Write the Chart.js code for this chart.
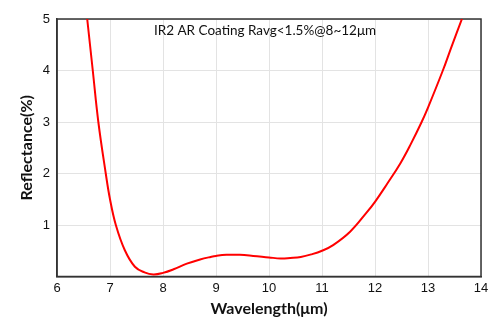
<!DOCTYPE html>
<html>
<head>
<meta charset="utf-8">
<script src="https://cdn.jsdelivr.net/npm/chart.js@4"></script>
<style>
  html, body { margin: 0; padding: 0; background: #fff; }
  #wrap { width: 500px; height: 334px; }
</style>
</head>
<body>
<div id="wrap"><canvas id="c" width="500" height="334"></canvas></div>
<script>
const wavelengths = [6.57, 6.675, 6.78, 6.92, 7.0, 7.11, 7.28, 7.47, 7.65, 7.82, 8.0, 8.2, 8.45, 8.7, 8.9, 9.0, 9.2, 9.45, 9.7, 10.0, 10.22, 10.4, 10.6, 10.8, 11.0, 11.21, 11.53, 11.84, 12.0, 12.23, 12.48, 12.67, 12.88, 13.0, 13.28, 13.45, 13.64];
const reflectance = [5.0, 4.0, 3.0, 2.0, 1.5, 1.0, 0.51, 0.19, 0.08, 0.04, 0.07, 0.14, 0.25, 0.33, 0.38, 0.40, 0.42, 0.42, 0.40, 0.37, 0.35, 0.36, 0.38, 0.43, 0.50, 0.61, 0.87, 1.24, 1.45, 1.80, 2.2, 2.56, 3.0, 3.28, 4.0, 4.48, 5.0];
const xTicks = [6, 7, 8, 9, 10, 11, 12, 13, 14];
const yTicks = [1, 2, 3, 4, 5];
const chartTitle = 'IR2 AR Coating Ravg<1.5%@8~12\u03BCm';
const xTitle = 'Wavelength(\u03BCm)';
const yTitle = 'Reflectance(%)';

const points = wavelengths.map((w, i) => ({ x: w, y: reflectance[i] }));

const boxPlugin = {
  id: 'box',
  beforeDatasetsDraw(chart) {
    const { ctx, chartArea: a } = chart;
    ctx.save();
    ctx.strokeStyle = '#333';
    ctx.lineWidth = 1.5;
    ctx.strokeRect(a.left, a.top, a.right - a.left, a.bottom - a.top);
    ctx.restore();
  },
  afterDraw(chart) {
    const { ctx, chartArea: a } = chart;
    ctx.save();
    ctx.fillStyle = '#111';
    ctx.font = '13.5px Lato, sans-serif';
    ctx.textAlign = 'center';
    ctx.textBaseline = 'middle';
    ctx.fillText(chartTitle, 265, a.top + 12);
    ctx.restore();
  }
};

new Chart(document.getElementById('c'), {
  type: 'scatter',
  data: {
    datasets: [{
      data: points,
      showLine: true,
      borderColor: '#ff0000',
      borderWidth: 2,
      pointRadius: 0,
      tension: 0.4,
      fill: false
    }]
  },
  options: {
    responsive: false,
    animation: false,
    devicePixelRatio: 1,
    layout: { padding: { left: 13, right: 19, top: 19, bottom: 12 } },
    plugins: { legend: { display: false }, tooltip: { enabled: false } },
    scales: {
      x: {
        type: 'linear',
        min: 6, max: 14,
        afterBuildTicks(s) { s.ticks = xTicks.map(v => ({ value: v })); },
        afterFit(s) { s.height = 45.5; },
        grid: { color: '#e3e3e3', lineWidth: 1, drawTicks: false },
        border: { color: '#333', width: 1.5 },
        ticks: { color: '#111', padding: 4, font: { family: '"Liberation Sans", Arial, sans-serif', size: 13 } },
        title: { display: true, text: xTitle, color: '#111', padding: { top: 4, bottom: 4 }, font: { family: 'Lato, sans-serif', size: 16, weight: 'bold' } }
      },
      y: {
        type: 'linear',
        min: 0, max: 5,
        afterBuildTicks(s) { s.ticks = yTicks.map(v => ({ value: v })); },
        afterFit(s) { s.width = 44; },
        grid: { color: '#e3e3e3', lineWidth: 1, drawTicks: false },
        border: { color: '#333', width: 1.5 },
        ticks: { color: '#111', padding: 7, font: { family: '"Liberation Sans", Arial, sans-serif', size: 13 } },
        title: { display: true, text: yTitle, color: '#111', padding: { top: 4, bottom: 4 }, font: { family: 'Lato, sans-serif', size: 16, weight: 'bold' } }
      }
    }
  },
  plugins: [boxPlugin]
});
</script>
</body>
</html>
